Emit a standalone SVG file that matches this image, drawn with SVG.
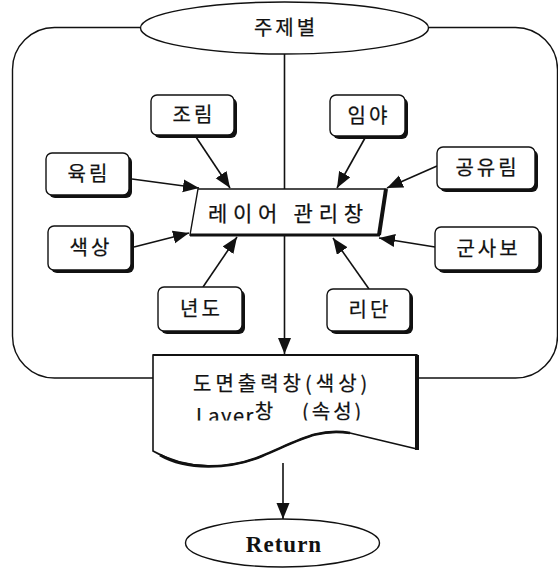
<svg xmlns="http://www.w3.org/2000/svg" width="558" height="569" viewBox="0 0 558 569">
  <style>
    .ko { font-family: "Noto Sans CJK KR", "Liberation Sans", sans-serif; fill: #111; stroke: #111; stroke-width: 0.25; }
    .lbl { font-size: 20px; text-anchor: middle; letter-spacing: 3px; }
    .thin { fill: none; stroke: #111; stroke-width: 1.4; }
    .card { fill: #fff; stroke: #111; stroke-width: 1.4; }
    .shadow { fill: #111; }
    .edge { stroke: #111; stroke-width: 1.6; fill: none; }
    .link { stroke: #111; stroke-width: 1.6; fill: none; }
  </style>
  <defs>
    <marker id="head" markerUnits="userSpaceOnUse" markerWidth="17" markerHeight="14" refX="16" refY="6.5" orient="auto">
      <path d="M0,0 L16,6.5 L0,13 Z" fill="#111"/>
    </marker>
    <!-- the second caption line is cut off at its baseline -->
    <clipPath id="cutLine">
      <rect x="150" y="395" width="270" height="25.6"/>
    </clipPath>
  </defs>

  <rect width="558" height="569" fill="#fff"/>

  <!-- outer loop frame -->
  <g id="frame">
    <rect x="12.5" y="27.5" width="545" height="350.5" rx="42" ry="42" class="thin"/>
  </g>

  <!-- connectors -->
  <g id="connectors">
    <line x1="284.5" y1="54" x2="284.5" y2="354" class="edge" marker-end="url(#head)"/>
    <line x1="283" y1="463" x2="283" y2="519" class="edge" marker-end="url(#head)"/>
    <line x1="132" y1="179" x2="199" y2="188" class="link" marker-end="url(#head)"/>
    <line x1="196" y1="137" x2="230" y2="188" class="link" marker-end="url(#head)"/>
    <line x1="365" y1="138" x2="337" y2="188" class="link" marker-end="url(#head)"/>
    <line x1="437" y1="166" x2="387" y2="188" class="link" marker-end="url(#head)"/>
    <line x1="134" y1="247" x2="189" y2="233" class="link" marker-end="url(#head)"/>
    <line x1="203" y1="287" x2="237" y2="237" class="link" marker-end="url(#head)"/>
    <line x1="369" y1="289" x2="333" y2="238" class="link" marker-end="url(#head)"/>
    <line x1="435" y1="247" x2="379" y2="238" class="link" marker-end="url(#head)"/>
  </g>

  <!-- start terminal -->
  <g id="start">
    <ellipse cx="284.5" cy="28" rx="144" ry="26" class="card"/>
    <text x="286" y="35" class="ko lbl">주제별</text>
  </g>

  <!-- central manager window -->
  <g id="manager">
    <path d="M198,189 L386,189 L379,235 L190,235 Z" class="card"/>
    <line x1="386" y1="189" x2="379" y2="235" stroke="#111" stroke-width="4"/>
    <line x1="190" y1="235" x2="380" y2="235" stroke="#111" stroke-width="3"/>
    <text x="208" y="221" class="ko" font-size="21" textLength="155" lengthAdjust="spacing">레이어  관리창</text>
  </g>

  <!-- input cards -->
  <g id="n-jorim">
    <rect x="154" y="98" width="83" height="40" rx="6" class="shadow"/>
    <rect x="151" y="95" width="83" height="40" rx="6" class="card"/>
    <text x="194" y="122" class="ko lbl">조림</text>
  </g>
  <g id="n-imya">
    <rect x="333" y="98" width="75" height="41" rx="6" class="shadow"/>
    <rect x="330" y="95" width="75" height="41" rx="6" class="card"/>
    <text x="369" y="123" class="ko lbl">임야</text>
  </g>
  <g id="n-yukrim">
    <rect x="49" y="156" width="83" height="42" rx="6" class="shadow"/>
    <rect x="46" y="153" width="83" height="42" rx="6" class="card"/>
    <text x="89" y="181" class="ko lbl">육림</text>
  </g>
  <g id="n-gongyurim">
    <rect x="440" y="150" width="98" height="42" rx="6" class="shadow"/>
    <rect x="437" y="147" width="98" height="42" rx="6" class="card"/>
    <text x="487.5" y="175" class="ko lbl">공유림</text>
  </g>
  <g id="n-color">
    <rect x="51" y="229" width="83" height="44" rx="6" class="shadow"/>
    <rect x="48" y="226" width="83" height="44" rx="6" class="card"/>
    <text x="91" y="255" class="ko lbl">색상</text>
  </g>
  <g id="n-military">
    <rect x="438" y="230" width="104" height="43" rx="6" class="shadow"/>
    <rect x="435" y="227" width="104" height="43" rx="6" class="card"/>
    <text x="488.5" y="256" class="ko lbl">군사보</text>
  </g>
  <g id="n-year">
    <rect x="161" y="290" width="84" height="44" rx="6" class="shadow"/>
    <rect x="158" y="287" width="84" height="44" rx="6" class="card"/>
    <text x="201.5" y="316" class="ko lbl">년도</text>
  </g>
  <g id="n-ridan">
    <rect x="330" y="292" width="83" height="42" rx="6" class="shadow"/>
    <rect x="327" y="289" width="83" height="42" rx="6" class="card"/>
    <text x="370" y="317" class="ko lbl">리단</text>
  </g>

  <!-- output document -->
  <g id="document">
    <path d="M153,355 L417,355 L417,449 L350,433 C318,428 300,440 262,456 C228,470 186,470 153,451 Z" fill="#fff" stroke="#111" stroke-width="1.6"/>
    <line x1="153" y1="355" x2="417" y2="355" stroke="#111" stroke-width="2.2"/>
    <line x1="417" y1="355" x2="417" y2="450" stroke="#111" stroke-width="4"/>
    <path d="M350,433 C318,428 300,440 262,456 C228,470 186,470 160,455" fill="none" stroke="#111" stroke-width="2.6"/>
    <text x="193" y="391" class="ko" font-size="20" letter-spacing="4">도면출력창(색상)</text>
    <text class="ko" font-size="20" letter-spacing="1.5" clip-path="url(#cutLine)"><tspan x="196" y="422.6">Layer</tspan><tspan y="418.6">창</tspan><tspan x="302" y="418.6" letter-spacing="3">(속성)</tspan></text>
  </g>

  <!-- end terminal -->
  <g id="end">
    <ellipse cx="282.5" cy="543" rx="97" ry="24" class="card"/>
    <text x="284" y="552" font-family="Liberation Serif, serif" font-weight="bold" font-size="23" text-anchor="middle" letter-spacing="1" fill="#111">Return</text>
  </g>
</svg>
